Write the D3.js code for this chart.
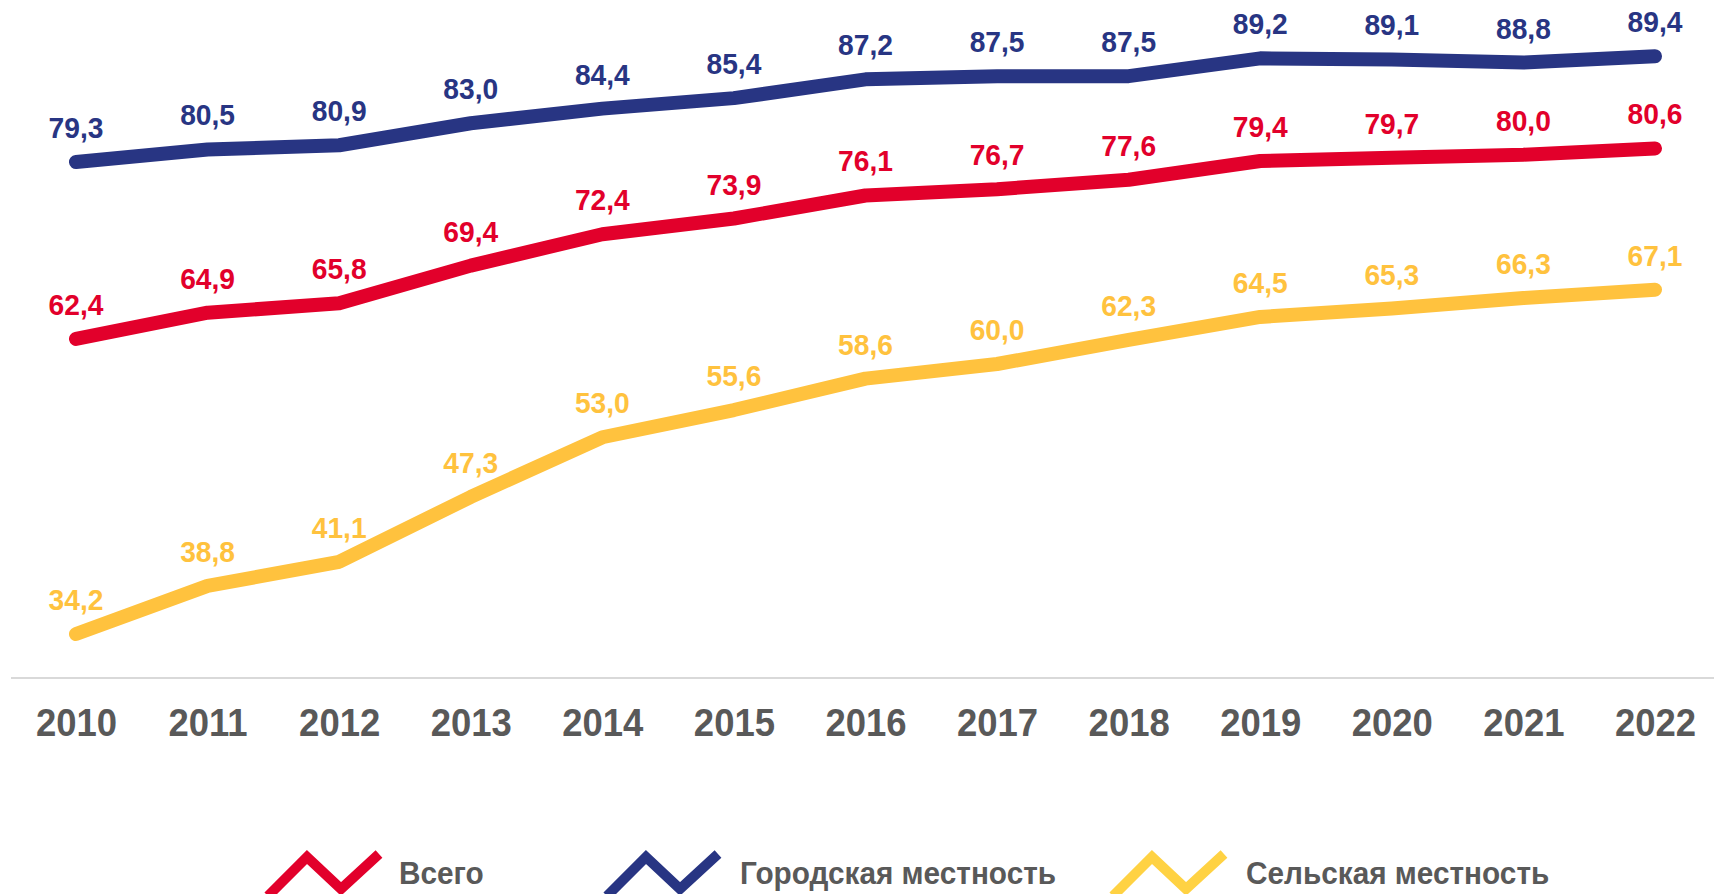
<!DOCTYPE html>
<html>
<head>
<meta charset="utf-8">
<script src="https://cdn.jsdelivr.net/npm/d3@7"></script>
<style>
  html, body { margin: 0; padding: 0; background: #fff; }
  svg { display: block; font-family: "Liberation Sans", Arial, sans-serif; font-weight: bold; }
</style>
</head>
<body>
<div id="chart"></div>
<script>
const years = ['2010', '2011', '2012', '2013', '2014', '2015', '2016', '2017', '2018', '2019', '2020', '2021', '2022'];
const total = [62.4, 64.9, 65.8, 69.4, 72.4, 73.9, 76.1, 76.7, 77.6, 79.4, 79.7, 80.0, 80.6];
const urban = [79.3, 80.5, 80.9, 83.0, 84.4, 85.4, 87.2, 87.5, 87.5, 89.2, 89.1, 88.8, 89.4];
const rural = [34.2, 38.8, 41.1, 47.3, 53.0, 55.6, 58.6, 60.0, 62.3, 64.5, 65.3, 66.3, 67.1];
const seriesNames = ['Всего', 'Городская местность', 'Сельская местность'];

document.addEventListener('DOMContentLoaded', function() {
    const W = 1714, H = 894;
    const lineColors = ['#e2002b', '#283583', '#ffc23e'];
    const legendColors = ['#e2002b', '#283583', '#ffd243'];

    const series = [total, urban, rural].map((vals, i) => ({
        name: seriesNames[i],
        color: lineColors[i],
        values: vals.map((v, j) => ({ year: years[j], value: v }))
    }));

    const svg = d3.select('#chart').append('svg')
        .attr('width', W)
        .attr('height', H);

    const x = d3.scalePoint()
        .domain(years)
        .range([76, 1655]);

    const y = d3.scaleLinear()
        .domain([30, 90])
        .range([678, 50]);

    // baseline
    svg.append('line')
        .attr('x1', 11).attr('x2', W)
        .attr('y1', y(30)).attr('y2', y(30))
        .attr('stroke', '#d9d9d9')
        .attr('stroke-width', 2);

    // years under the baseline
    const xAxis = svg.append('g')
        .attr('transform', `translate(0,${y(30)})`)
        .call(d3.axisBottom(x).tickSize(0).tickPadding(0));
    xAxis.select('.domain').remove();
    xAxis.selectAll('.tick text')
        .attr('y', 0)
        .attr('dy', 0)
        .attr('transform', 'translate(0,58) scale(0.96,1)')
        .attr('fill', '#595959')
        .style('font-size', '38px')
        .style('font-weight', 'bold')
        .style('font-family', '"Liberation Sans", Arial, sans-serif');

    const line = d3.line()
        .x(d => x(d.year))
        .y(d => y(d.value));

    const fmt = v => d3.format('.1f')(v).replace('.', ',');

    series.slice().reverse().forEach(s => {
        svg.append('path')
            .datum(s.values)
            .attr('fill', 'none')
            .attr('stroke', s.color)
            .attr('stroke-width', 14)
            .attr('stroke-linejoin', 'round')
            .attr('stroke-linecap', 'round')
            .attr('d', line);

        svg.append('g')
            .selectAll('g')
            .data(s.values)
            .join('g')
                .attr('transform', d => `translate(${x(d.year)},${y(d.value) - 24}) scale(0.94,1)`)
            .append('text')
                .attr('text-anchor', 'middle')
                .attr('fill', s.color)
                .style('font-size', '30px')
                .text(d => fmt(d.value));
    });

    // legend
    const legendX = [268, 607, 1113];
    const textGap = 131;
    const icon = [[0, 39], [39, 0], [73, 32], [111, -3]];

    const legend = svg.append('g')
        .selectAll('g')
        .data(seriesNames)
        .join('g')
            .attr('transform', (d, i) => `translate(${legendX[i]},857)`);

    legend.append('path')
        .attr('d', d3.line()(icon))
        .attr('fill', 'none')
        .attr('stroke', (d, i) => legendColors[i])
        .attr('stroke-width', 10)
        .attr('stroke-linejoin', 'miter');

    legend.append('g')
        .attr('transform', (d, i) => `translate(${textGap + (i === 0 ? 0 : 2)},27) scale(0.93,1)`)
        .append('text')
            .attr('fill', '#595959')
            .style('font-size', '32px')
            .text(d => d);
});
</script>
</body>
</html>
